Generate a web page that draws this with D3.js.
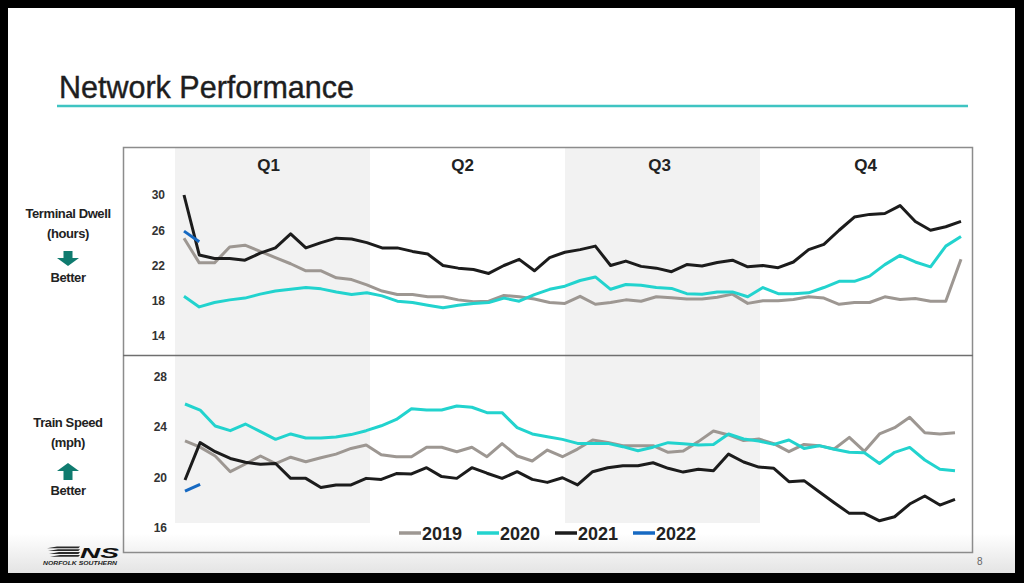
<!DOCTYPE html>
<html>
<head>
<meta charset="utf-8">
<script src="https://cdn.jsdelivr.net/npm/d3@7"></script>
<style>
body { margin: 0; background: #000; }
svg { display: block; font-family: "Liberation Sans", Arial, sans-serif; }
</style>
</head>
<body>
<div id="chart"></div>
<script>
// weekly values, weeks 1..52
var weeks = d3.range(1, 53);
var quarters = ["Q1", "Q2", "Q3", "Q4"];
var years = ["2019", "2020", "2021", "2022"];
var colors = ["#9d9792", "#22d3ce", "#1c1c1c", "#1669c2"];

var dwellTicks = [14, 18, 22, 26, 30];
var speedTicks = [16, 20, 24, 28];

var dwell2019 = [25.1, 22.3, 22.3, 24.1, 24.3, 23.6, 22.9, 22.2, 21.4, 21.4,
	20.6, 20.4, 19.8, 19.1, 18.7, 18.7, 18.45, 18.45, 18.1, 17.9,
	17.95, 18.6, 18.45, 18.2, 17.8, 17.7, 18.5, 17.6, 17.8, 18.1,
	17.95, 18.45, 18.35, 18.2, 18.2, 18.4, 18.75, 17.7, 18.0, 18.0,
	18.15, 18.45, 18.3, 17.6, 17.8, 17.8, 18.45, 18.15, 18.25, 17.95,
	17.95, 22.7];
var dwell2020 = [18.5, 17.3, 17.8, 18.1, 18.3, 18.75, 19.1, 19.3, 19.5, 19.35,
	19.0, 18.7, 18.9, 18.55, 17.95, 17.8, 17.5, 17.2, 17.5, 17.7,
	17.8, 18.3, 17.95, 18.7, 19.3, 19.65, 20.3, 20.7, 19.3, 19.85,
	19.75, 19.5, 19.4, 18.8, 18.75, 19.0, 19.0, 18.45, 19.5, 18.8,
	18.8, 18.9, 19.5, 20.2, 20.2, 20.8, 22.1, 23.15, 22.4, 21.85,
	24.2, 25.3];
var dwell2021 = [30.0, 23.2, 22.8, 22.8, 22.6, 23.4, 24.0, 25.6, 24.0, 24.6,
	25.1, 25.0, 24.6, 24.0, 24.0, 23.6, 23.3, 22.0, 21.7, 21.55,
	21.1, 22.0, 22.7, 21.4, 22.9, 23.5, 23.8, 24.2, 22.0, 22.5,
	21.9, 21.7, 21.3, 22.1, 21.95, 22.35, 22.6, 21.85, 22.0, 21.75,
	22.4, 23.8, 24.4, 26.0, 27.5, 27.8, 27.9, 28.8, 27.0, 26.0,
	26.4, 27.0];
var dwell2022 = [25.9, 24.7];

var speed2019 = [22.9, 22.4, 21.7, 20.45, 21.06, 21.7, 21.1, 21.6, 21.24, 21.56,
	21.85, 22.3, 22.57, 21.8, 21.64, 21.64, 22.39, 22.39, 22.04, 22.39,
	21.64, 22.68, 21.7, 21.3, 22.17, 21.64, 22.25, 22.97, 22.78, 22.52,
	22.52, 22.52, 21.99, 22.1, 22.84, 23.68, 23.37, 22.92, 23.05, 22.68,
	22.04, 22.62, 22.52, 22.25, 23.18, 22.07, 23.45, 23.95, 24.77, 23.55,
	23.45, 23.55];
var speed2020 = [25.83, 25.35, 24.08, 23.71, 24.24, 23.63, 23.02, 23.45, 23.13, 23.13,
	23.2, 23.4, 23.71, 24.1, 24.6, 25.45, 25.35, 25.35, 25.67, 25.57,
	25.14, 25.14, 23.95, 23.45, 23.23, 23.02, 22.7, 22.7, 22.7, 22.44,
	22.12, 22.4, 22.76, 22.68, 22.57, 22.62, 23.45, 23.05, 22.89, 22.62,
	22.97, 22.3, 22.52, 22.23, 21.99, 21.96, 21.1, 21.99, 22.38, 21.38,
	20.64, 20.53];
var speed2021 = [19.79, 22.76, 22.04, 21.5, 21.2, 21.04, 21.1, 19.92, 19.92, 19.2,
	19.4, 19.4, 19.92, 19.84, 20.3, 20.27, 20.77, 20.06, 19.92, 20.77,
	20.33, 19.92, 20.45, 19.84, 19.6, 19.97, 19.4, 20.45, 20.77, 20.93,
	20.93, 21.16, 20.72, 20.42, 20.64, 20.53, 21.85, 21.22, 20.82, 20.72,
	19.66, 19.74, 18.86, 17.98, 17.14, 17.14, 16.55, 16.87, 17.88, 18.52,
	17.8, 18.25];
var speed2022 = [18.9, 19.45];

var dwellSeries = [dwell2019, dwell2020, dwell2021, dwell2022];
var speedSeries = [speed2019, speed2020, speed2021, speed2022];

var svg = d3.select("#chart")
	.append("svg")
	.attr("width", 1024)
	.attr("height", 583);

var grad = svg.append("defs").append("linearGradient")
	.attr("id", "fade")
	.attr("x1", 0).attr("y1", 0).attr("x2", 0).attr("y2", 1);
grad.append("stop").attr("offset", "0.93").attr("stop-color", "#fff");
grad.append("stop").attr("offset", "1").attr("stop-color", "#e4e4e4");

// slide
svg.append("rect")
	.attr("width", 1024).attr("height", 583)
	.attr("fill", "#000");
svg.append("rect")
	.attr("x", 8).attr("y", 8)
	.attr("width", 1007).attr("height", 565)
	.attr("fill", "url(#fade)");

svg.append("text")
	.attr("x", 59)
	.attr("y", 98)
	.text("Network Performance")
	.style("font-size", "30.5px")
	.attr("stroke", "#1e1e1e")
	.attr("stroke-width", 0.4)
	.attr("fill", "#1e1e1e");

svg.append("line")
	.attr("x1", 57).attr("x2", 968)
	.attr("y1", 106).attr("y2", 106)
	.attr("stroke", "#3fc4c2")
	.attr("stroke-width", 2.5);

// scales
var xTop = d3.scaleLinear().domain([1, 52]).range([184, 961]);
var xBot = d3.scaleLinear().domain([1, 52]).range([185, 955]);
var qx = d3.scaleBand().domain(quarters).range([175, 955]);
var yDwell = d3.scaleLinear().domain([14, 30]).range([336, 195]);
var ySpeed = d3.scaleLinear().domain([16, 28]).range([527.7, 376.7]);

// shaded quarters
[[148, 355], [355, 523]].forEach(function(p) {
	svg.selectAll(null)
		.data(["Q1", "Q3"])
		.enter()
		.append("rect")
		.attr("x", d => qx(d))
		.attr("y", p[0])
		.attr("width", qx.bandwidth())
		.attr("height", p[1] - p[0])
		.attr("fill", "#f2f2f2");
});

svg.selectAll(".qlabel")
	.data(quarters)
	.enter()
	.append("text")
	.attr("class", "qlabel")
	.attr("x", (d, i) => qx(d) + qx.bandwidth() / 2 + [-4, -5, -3, 8][i])
	.attr("y", 171)
	.text(d => d)
	.style("font-size", "17px")
	.style("font-weight", "bold")
	.style("text-anchor", "middle")
	.attr("fill", "#222");

// frame
svg.append("rect")
	.attr("x", 123.5).attr("y", 147.5)
	.attr("width", 849).attr("height", 405)
	.attr("fill", "none")
	.attr("stroke", "#8c8c8c")
	.attr("stroke-width", 1.5);
svg.append("line")
	.attr("x1", 123).attr("x2", 973)
	.attr("y1", 355.5).attr("y2", 355.5)
	.attr("stroke", "#6f6f6f")
	.attr("stroke-width", 1.5);

// axes
function styleAxis(g) {
	g.select(".domain").remove();
	g.selectAll("text")
		.style("font-size", "12px")
		.style("font-weight", "bold")
		.style("font-family", "'Liberation Sans', Arial, sans-serif")
		.attr("fill", "#333");
}
svg.append("g")
	.attr("transform", "translate(165,0)")
	.call(d3.axisLeft(yDwell).tickValues(dwellTicks).tickSize(0).tickPadding(0))
	.call(styleAxis);
svg.append("g")
	.attr("transform", "translate(167,0)")
	.call(d3.axisLeft(ySpeed).tickValues(speedTicks).tickSize(0).tickPadding(0))
	.call(styleAxis);

// lines
var lineTop = d3.line().x((d, i) => xTop(weeks[i])).y(d => yDwell(d));
var lineBot = d3.line().x((d, i) => xBot(weeks[i])).y(d => ySpeed(d));

svg.selectAll(".dwell")
	.data(dwellSeries)
	.enter()
	.append("path")
	.attr("class", "dwell")
	.attr("d", lineTop)
	.attr("fill", "none")
	.attr("stroke", (d, i) => colors[i])
	.attr("stroke-width", 3)
	.attr("stroke-linejoin", "round");

svg.selectAll(".speed")
	.data(speedSeries)
	.enter()
	.append("path")
	.attr("class", "speed")
	.attr("d", lineBot)
	.attr("fill", "none")
	.attr("stroke", (d, i) => colors[i])
	.attr("stroke-width", 3)
	.attr("stroke-linejoin", "round");

// legend
var leg = svg.selectAll(".leg")
	.data(years)
	.enter()
	.append("g")
	.attr("class", "leg")
	.attr("transform", (d, i) => "translate(" + (399 + i * 78) + ",533)");
leg.append("line")
	.attr("x1", 0).attr("x2", 22)
	.attr("stroke", (d, i) => colors[i])
	.attr("stroke-width", 3.5);
leg.append("text")
	.attr("x", 23)
	.attr("y", 7)
	.text(d => d)
	.style("font-size", "18px")
	.style("font-weight", "bold")
	.attr("fill", "#222");

// side labels
function sideLabel(lines, ys, arrowY, up) {
	lines.forEach(function(t, i) {
		svg.append("text")
			.attr("x", 68)
			.attr("y", ys[i])
			.text(t)
			.style("font-size", "13px")
			.style("font-weight", "bold")
			.style("text-anchor", "middle")
			.style("letter-spacing", "-0.4px")
			.attr("fill", "#222");
	});
	var p = up
		? [[68, arrowY], [79, arrowY + 8], [72.5, arrowY + 8], [72.5, arrowY + 17], [63.5, arrowY + 17], [63.5, arrowY + 8], [57, arrowY + 8]]
		: [[68, arrowY + 15], [79, arrowY + 7], [72.5, arrowY + 7], [72.5, arrowY], [63.5, arrowY], [63.5, arrowY + 7], [57, arrowY + 7]];
	svg.append("path")
		.attr("d", "M" + p.join("L") + "Z")
		.attr("fill", "#0f7b6f");
}
sideLabel(["Terminal Dwell", "(hours)", "Better"], [218, 238, 281.5], 251, false);
sideLabel(["Train Speed", "(mph)", "Better"], [426.5, 446.5, 494.5], 463, true);

// logo
var logo = svg.append("g");
[0, 1, 2, 3].forEach(function(i) {
	var y = 546.5 + i * 2.8;
	var x0 = 44 + i * 2 + (3 - i) * 1;
	logo.append("path")
		.attr("d", "M" + (x0 + 10) + "," + y + "L80," + y + "L" + (79 - 0.6) + "," + (y + 1.8) + "L" + x0 + "," + (y + 1.8) + "Z")
		.attr("fill", "#2a2a2a");
});
logo.append("text")
	.attr("x", 80).attr("y", 557.5)
	.attr("textLength", 39).attr("lengthAdjust", "spacingAndGlyphs")
	.text("NS")
	.style("font-size", "15.5px")
	.style("font-weight", "bold")
	.style("font-style", "italic")
	.attr("fill", "#111");
logo.append("text")
	.attr("x", 43).attr("y", 565)
	.attr("textLength", 74).attr("lengthAdjust", "spacingAndGlyphs")
	.text("NORFOLK SOUTHERN")
	.style("font-size", "6px")
	.style("font-weight", "bold")
	.style("font-style", "italic")
	.attr("fill", "#222");

svg.append("text")
	.attr("x", 977).attr("y", 565)
	.text("8")
	.style("font-size", "10px")
	.attr("fill", "#666");
</script>
</body>
</html>
